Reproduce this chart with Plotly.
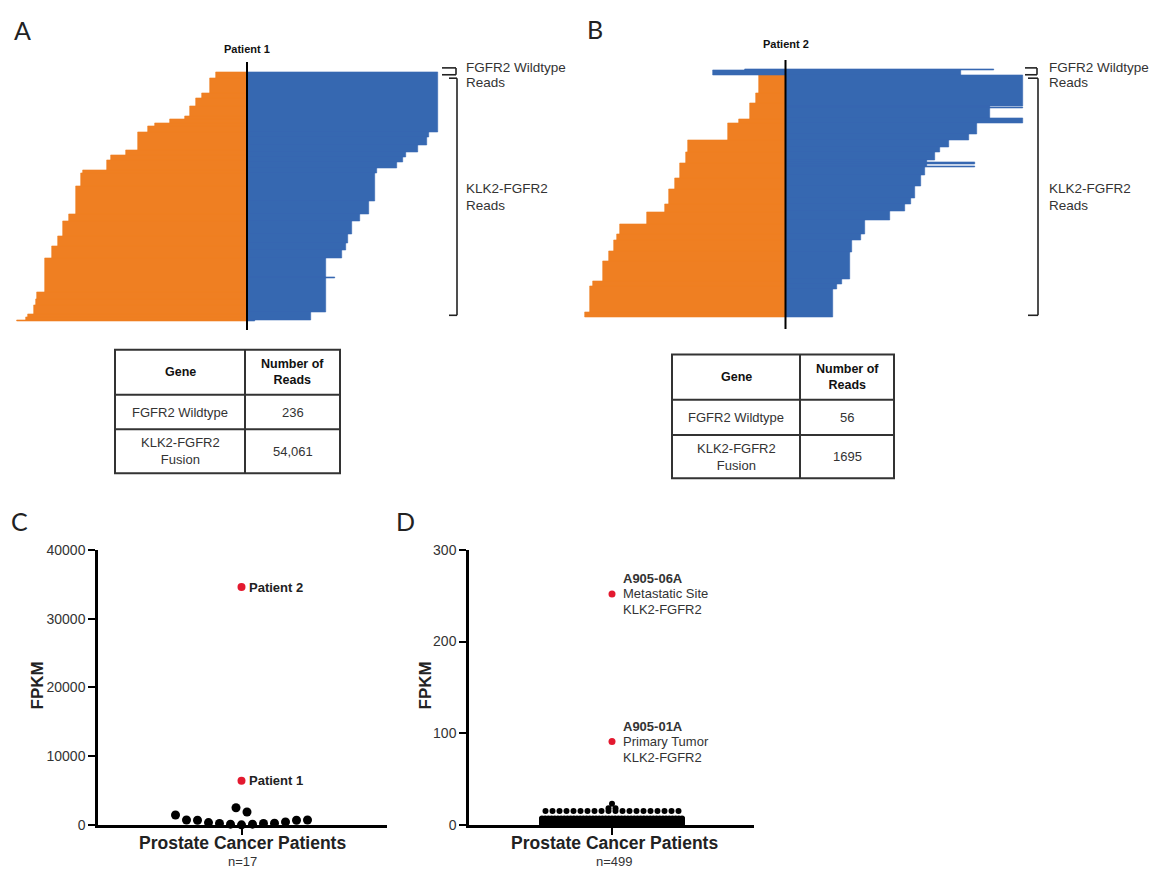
import plotly.graph_objects as go

W, H = 1158, 878

# ---------------- DATA ----------------
# Panel A (Patient 1) read pile-up: row-block edges (read rows from top) and read extent per block
a_klk2_edges = [0, 7, 22, 27, 35, 45, 48, 52, 55, 62, 80, 85, 90, 100, 103, 117, 145, 152,
                168, 178, 190, 225, 232, 238, 247, 250, 253, 254]
a_klk2_len = [31, 37, 45, 51, 57, 62, 77, 92, 99, 109, 121, 136, 140, 164, 166, 171, 178,
              184, 189, 195, 202, 210, 211, 213, 219, 221, 230]
a_fgfr2_edges = [0, 62, 67, 75, 82, 87, 92, 98, 103, 132, 145, 152, 165, 175, 182, 190,
                 209.5, 210.5, 245, 253, 254]
a_fgfr2_len = [191, 182, 180, 171, 159, 156, 150, 130, 128, 122, 113, 105, 101, 99, 95,
               79, 88, 79, 64, 8]

# Panel B (Patient 2)
b_wt_edges = [0, 1.2, 7]
b_wt_left = [41, 73]
b_wt_right = [208, 175]
b_klk2_edges = [7, 25, 35, 51, 55, 73, 85, 96, 111, 123, 138, 146, 158, 168, 175, 186, 196,
                216, 221, 248, 253]
b_klk2_len = [27, 30, 36, 47, 58, 98, 100, 106, 111, 117, 121, 139, 166, 169, 172, 177, 183,
              193, 196, 201]
b_fgfr2_edges = [7, 38, 39.3, 40.3, 50.7, 55.3, 66.3, 73, 79.7, 84.7, 93, 95.3, 96.7, 99.3,
                 100.7, 108, 119.7, 131.3, 138, 144.7, 154.7, 168, 174.7, 186.3, 214.7,
                 219.7, 224.7, 253]
b_fgfr2_len = [237, 204, 237, 204, 237, 191, 183, 163, 154, 149, 141, 189, 141, 189, 139,
               135, 129, 125, 119, 104, 79, 75, 66, 64, 56, 51, 47]

# Read-count tables
table_header = ["Gene", "Number of<br>Reads"]
table_genes = ["FGFR2 Wildtype", "KLK2-FGFR2<br>Fusion"]
reads_p1 = ["236", "54,061"]
reads_p2 = ["56", "1695"]

# Panel C: FGFR2 FPKM, n=17
c_black = [1430, 670, 670, 330, 190, 100, 0, 100, 190, 240, 430, 710, 710, 2480, 1860]
c_red = [34600, 6400]
c_red_labels = ["Patient 2", "Patient 1"]
c_ticks = [0, 10000, 20000, 30000, 40000]

# Panel D: FGFR2 FPKM, n=499 (value levels and number of patients at each level)
d_levels = [23, 18, 15, 7, 6, 5, 4, 3, 2, 1, 0.3]
d_counts = [1, 2, 20, 45, 60, 75, 74, 80, 70, 60, 10]
d_red = [252, 91]
d_red_ids = ["A905-06A", "A905-01A"]
d_red_site = ["Metastatic Site", "Primary Tumor"]
d_red_fusion = ["KLK2-FGFR2", "KLK2-FGFR2"]
d_ticks = [0, 100, 200, 300]

ORANGE = "#EF7F22"
BLUE = "#3668B1"
RED = "#E3192F"
FONT = "Liberation Sans, Arial, sans-serif"


def px(x):
    return x / W


def py(y):
    return 1 - y / H


def hbars(edges, lens, color, xa, ya, sign=1, base=None):
    c = [(edges[i] + edges[i + 1]) / 2 for i in range(len(lens))]
    w = [edges[i + 1] - edges[i] for i in range(len(lens))]
    return go.Bar(x=[sign * v for v in lens], y=c, width=w, orientation="h", base=base,
                  marker=dict(color=color, line=dict(width=0.6, color=color)),
                  xaxis=xa, yaxis=ya, hoverinfo="skip", showlegend=False)


def swarm_offsets(values, px_per_unit, row_gap, spacing, max_width):
    order = sorted(range(len(values)), key=lambda i: values[i])
    rows = []
    for i in order:
        v = values[i] * px_per_unit
        if rows and v - rows[-1][0] <= row_gap:
            rows[-1][1].append(i)
        else:
            rows.append([v, [i]])
    offs = [0.0] * len(values)
    for _, idx in rows:
        n = len(idx)
        step = spacing if n < 2 else min(spacing, max_width / (n - 1))
        if n % 2:
            slots = [0] + [s for k in range(1, n // 2 + 1) for s in (k, -k)]
        else:
            slots = [s for k in range(n // 2) for s in (k + 0.5, -(k + 0.5))]
        for i, s in zip(idx, slots):
            offs[i] = s * step
    return offs


fig = go.Figure()

# ---- Panel A ----
fig.add_trace(hbars(a_klk2_edges, a_klk2_len, ORANGE, "x", "y", sign=-1))
fig.add_trace(hbars(a_fgfr2_edges, a_fgfr2_len, BLUE, "x", "y"))

# ---- Panel B ----
fig.add_trace(hbars(b_klk2_edges, b_klk2_len, ORANGE, "x2", "y2", sign=-1))
fig.add_trace(hbars(b_fgfr2_edges, b_fgfr2_len, BLUE, "x2", "y2"))
fig.add_trace(hbars(b_wt_edges, [l + r for l, r in zip(b_wt_left, b_wt_right)], BLUE,
                    "x2", "y2", base=[-l for l in b_wt_left]))

# ---- Panel C ----
c_off = swarm_offsets(c_black, 280 / 40000, 11, 11, 140)
fig.add_trace(go.Scatter(x=c_off, y=c_black, mode="markers", xaxis="x3", yaxis="y3",
                         marker=dict(color="black", size=9), cliponaxis=False,
                         hoverinfo="skip", showlegend=False))
fig.add_trace(go.Scatter(x=[0] * len(c_red), y=c_red, mode="markers", xaxis="x3", yaxis="y3",
                         marker=dict(color=RED, size=8), cliponaxis=False,
                         hoverinfo="skip", showlegend=False))

# ---- Panel D ----
d_vals = [v for v, n in zip(d_levels, d_counts) for _ in range(n)]
d_off = swarm_offsets(d_vals, 280 / 300, 0, 7, 140)
fig.add_trace(go.Scatter(x=d_off, y=d_vals, mode="markers", xaxis="x4", yaxis="y4",
                         marker=dict(color="black", size=6), cliponaxis=False,
                         hoverinfo="skip", showlegend=False))
fig.add_trace(go.Scatter(x=[0] * len(d_red), y=d_red, mode="markers", xaxis="x4", yaxis="y4",
                         marker=dict(color=RED, size=7), cliponaxis=False,
                         hoverinfo="skip", showlegend=False))

hidden = dict(visible=False, fixedrange=True)
axis_common = dict(showline=True, linecolor="black", linewidth=2.5, ticks="outside",
                   ticklen=7, tickwidth=2, tickcolor="black", showgrid=False,
                   zeroline=False, fixedrange=True)

fig.update_layout(
    width=W, height=H, margin=dict(l=0, r=0, t=0, b=0),
    paper_bgcolor="white", plot_bgcolor="white", barmode="overlay", bargap=0,
    font=dict(family=FONT, color="#222"),
    xaxis=dict(domain=[0, px(580)], range=[-247, 333], anchor="y", **hidden),
    yaxis=dict(domain=[py(340), py(40)], range=[275, -25], anchor="x", **hidden),
    xaxis2=dict(domain=[px(580), 1], range=[-205.5, 372.5], anchor="y2", **hidden),
    yaxis2=dict(domain=[py(340), py(40)], range=[278, -22], anchor="x2", **hidden),
    xaxis3=dict(domain=[px(98), px(387)], range=[-143.5, 145.5], anchor="y3",
                tickvals=[0], showticklabels=False, **axis_common),
    yaxis3=dict(domain=[py(832), py(552)], range=[0, 40000], anchor="x3",
                tickvals=c_ticks, ticktext=[str(t) for t in c_ticks],
                tickfont=dict(size=14, color="#333"), **axis_common),
    xaxis4=dict(domain=[px(469), px(754)], range=[-143, 142], anchor="y4",
                tickvals=[0], showticklabels=False, **axis_common),
    yaxis4=dict(domain=[py(832), py(552)], range=[0, 300], anchor="x4",
                tickvals=d_ticks, ticktext=[str(t) for t in d_ticks],
                tickfont=dict(size=14, color="#333"), **axis_common),
)

shapes = []
ann = []

# breakpoint lines
shapes.append(dict(type="line", xref="x", yref="y", x0=0, x1=0, y0=-10, y1=263,
                   line=dict(color="black", width=2)))
shapes.append(dict(type="line", xref="x2", yref="y2", x0=0, x1=0, y0=-9, y1=265,
                   line=dict(color="black", width=2)))


def line(x0, y0, x1, y1, w=1.6, c="#222"):
    shapes.append(dict(type="line", xref="paper", yref="paper", x0=px(x0), y0=py(y0),
                       x1=px(x1), y1=py(y1), line=dict(color=c, width=w)))


def text(x, y, s, size=13, bold=False, xanchor="center", color="#333", family=FONT):
    if bold:
        s = "<b>" + s + "</b>"
    ann.append(dict(xref="paper", yref="paper", x=px(x), y=py(y), text=s, showarrow=False,
                    xanchor=xanchor, yanchor="middle", font=dict(size=size, color=color,
                                                                 family=family)))


# brackets + labels
for (sx0, sx1, bx, tip, tx) in [(442, 456, 457, 449, 464), (1025, 1037, 1038, 1028, 1047)]:
    line(sx0, 61, sx1, 61)
    line(sx1, 61, sx1, 68)
    line(sx0, 68, sx1, 68)
    line(tip, 71.5, bx, 71.5)
    line(bx, 71.5, bx, 313)
    line(tip, 313, bx, 313)
    text(tx, 61, "FGFR2 Wildtype", size=13.5, xanchor="left")
    text(tx, 76, "Reads", size=13.5, xanchor="left")
    text(tx, 184, "KLK2-FGFR2", size=13.5, xanchor="left")
    text(tx, 201, "Reads", size=13.5, xanchor="left")

text(247, 42, "Patient 1", size=11, bold=True, color="#111")
text(786, 37, "Patient 2", size=11, bold=True, color="#111")

# panel letters
for lx, ly, s in [(22, 22, "A"), (595, 21, "B"), (19, 523, "C"), (405, 523, "D")]:
    text(lx, ly, s, size=25, color="#222", family="Lato, Open Sans, sans-serif")

# tables
for (L, R, C, T, R1, R2, B, reads) in [(115, 340, 245, 348, 394, 429, 474, reads_p1),
                                        (672, 894, 800, 353, 399, 435, 479, reads_p2)]:
    shapes.append(dict(type="rect", xref="paper", yref="paper", x0=px(L), x1=px(R),
                       y0=py(B), y1=py(T), line=dict(color="#333", width=2)))
    line(C, T, C, B, w=2, c="#333")
    line(L, R1, R, R1, w=2, c="#333")
    line(L, R2, R, R2, w=2, c="#333")
    cx1, cx2 = (L + C) / 2, (C + R) / 2
    text(cx1, (T + R1) / 2, table_header[0], size=12.5, bold=True, color="#111")
    text(cx2, (T + R1) / 2, table_header[1], size=12.5, bold=True, color="#111")
    for (y0, y1), g, r in zip([(R1, R2), (R2, B)], table_genes, reads):
        text(cx1, (y0 + y1) / 2, g, size=13)
        text(cx2, (y0 + y1) / 2, r, size=13)

# panel C / D labels
for cx, n in [(242, "n=17"), (614, "n=499")]:
    text(cx, 851, "Prostate Cancer Patients", size=17.5, bold=True, color="#222")
    text(cx, 869, n, size=13)
for fx in (37, 425):
    ann.append(dict(xref="paper", yref="paper", x=px(fx), y=py(690), text="<b>FPKM</b>",
                    xanchor="center", yanchor="middle", showarrow=False, textangle=-90,
                    font=dict(size=17, color="#222", family=FONT)))

for v, lab in zip(c_red, c_red_labels):
    ann.append(dict(xref="x3", yref="y3", x=0, y=v, text="<b>" + lab + "</b>", showarrow=False,
                    xanchor="left", xshift=5, font=dict(size=13, color="#222", family=FONT)))

for v, i, s, f in zip(d_red, d_red_ids, d_red_site, d_red_fusion):
    for line_txt, shift, b in [(i, 15, True), (s, 0, False), (f, -16, False)]:
        ann.append(dict(xref="x4", yref="y4", x=0, y=v,
                        text=("<b>" + line_txt + "</b>") if b else line_txt,
                        showarrow=False, xanchor="left", xshift=9, yshift=shift,
                        font=dict(size=13, color="#333", family=FONT)))

fig.update_layout(shapes=shapes, annotations=ann)
fig.write_html("out.html", config={"displayModeBar": False},
               post_script="document.body.style.margin='0';document.body.style.overflow='hidden';")
